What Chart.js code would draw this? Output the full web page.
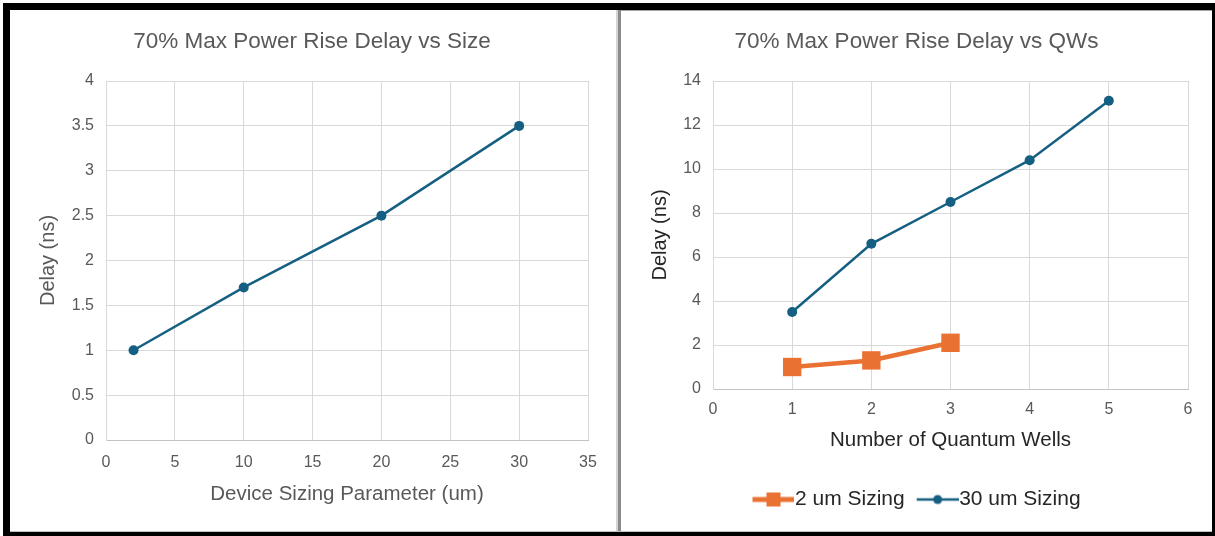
<!DOCTYPE html>
<html>
<head>
<meta charset="utf-8">
<script src="https://cdn.jsdelivr.net/npm/chart.js@4/dist/chart.umd.min.js"></script>
<style>
    body { margin: 0; background: #fff; }
    #frame { position: absolute; left: 3px; top: 3px; width: 1212px; height: 533px; background: #000; }
    .panel { position: absolute; background: #fff; }
    #leftPanel { left: 10px; top: 10px; width: 608px; height: 521px; }
    #rightPanel { left: 621px; top: 10px; width: 591px; height: 521px; border-top: 1px solid #a6a6a6; box-sizing: border-box; }
    #divLight { position: absolute; left: 616px; top: 10px; width: 2px; height: 522px; background: #d4d4d4; }
    #divDark { position: absolute; left: 618px; top: 10px; width: 3px; height: 522px; background: #8c8c8c; }
    #bottomLine { position: absolute; left: 10px; top: 531px; width: 1202px; height: 1px; background: #bdbdbd; }
    canvas { position: absolute; }
</style>
</head>
<body>
<div id="frame"></div>
<div class="panel" id="leftPanel"></div>
<div class="panel" id="rightPanel"></div>
<div id="divLight"></div>
<div id="divDark"></div>
<div id="bottomLine"></div>
<canvas id="sizeChart" width="608" height="521" style="left:10px;top:10px"></canvas>
<canvas id="qwChart" width="591" height="520" style="left:621px;top:11px"></canvas>
<script>
// Data
const sizeUm = [2, 10, 20, 30];
const sizeDelay = [1.0, 1.7, 2.5, 3.5];

const wells = [1, 2, 3, 4, 5];
const delay2um = [1.0, 1.3, 2.1];
const delay30um = [3.5, 6.6, 8.5, 10.4, 13.1];

const seriesNames = ['2 um Sizing', '30 um Sizing'];

const BLUE = '#156082';
const ORANGE = '#E97132';
const GRID = '#d9d9d9';
const TEXT = '#595959';
const DARK = '#262626';
const FONT = "'Liberation Sans', Arial, sans-serif";

Chart.defaults.font.family = FONT;
Chart.defaults.animation = false;

function toPoints(xs, ys) {
    return ys.map((y, i) => ({ x: xs[i], y: y }));
}

// small line+marker icons for the legend
function makeIcon(color, lineWidth, marker) {
    const c = document.createElement('canvas');
    c.width = 52;
    c.height = 20;
    const g = c.getContext('2d');
    g.strokeStyle = color;
    g.fillStyle = color;
    g.lineWidth = lineWidth;
    g.beginPath();
    g.moveTo(10, 10);
    g.lineTo(52, 10);
    g.stroke();
    if (marker === 'rect') {
        g.fillRect(24, 3, 14, 14);
    } else {
        g.beginPath();
        g.arc(31, 10, 4.5, 0, Math.PI * 2);
        g.fill();
    }
    return c;
}
const legendIcons = [makeIcon(ORANGE, 5, 'rect'), makeIcon(BLUE, 2.5, 'circle')];

function axisY(max, step, titleColor, titlePad, width) {
    return {
        type: 'linear',
        min: 0,
        max: max,
        ticks: { stepSize: step, padding: 12, color: TEXT, font: { size: 16 }, callback: v => v },
        grid: { color: GRID, drawTicks: false },
        border: { color: GRID },
        title: { display: true, text: 'Delay (ns)', color: titleColor, font: { size: 20 }, padding: { top: titlePad, bottom: 0 } },
        afterFit: s => { s.width = width; }
    };
}

function axisX(max, step, label, titleColor, tickPad, height) {
    return {
        type: 'linear',
        min: 0,
        max: max,
        ticks: { stepSize: step, padding: tickPad, color: TEXT, font: { size: 16 }, maxRotation: 0 },
        grid: { color: GRID, drawTicks: false },
        border: { color: '#c4c4c4' },
        title: { display: true, text: label, color: titleColor, font: { size: 20.5 }, padding: { top: 0, bottom: 0 } },
        afterFit: s => { s.height = height; }
    };
}

// Left chart: delay vs device size
new Chart(document.getElementById('sizeChart'), {
    type: 'line',
    data: {
        datasets: [{
            label: 'Delay',
            data: toPoints(sizeUm, sizeDelay),
            borderColor: BLUE,
            backgroundColor: BLUE,
            borderWidth: 2.5,
            pointRadius: 5,
            pointBackgroundColor: BLUE,
            pointBorderWidth: 0
        }]
    },
    options: {
        responsive: false,
        layout: { padding: { left: 26, right: 30, top: 0, bottom: 24 } },
        plugins: {
            legend: { display: false },
            tooltip: { enabled: false },
            title: {
                display: true,
                text: '70% Max Power Rise Delay vs Size',
                color: TEXT,
                font: { size: 22.5, weight: 'normal' },
                padding: { top: 18, bottom: 26 }
            }
        },
        scales: {
            x: axisX(35, 5, 'Device Sizing Parameter (um)', TEXT, 13, 67),
            y: axisY(4, 0.5, TEXT, 0, 70)
        }
    }
});

// Right chart: delay vs number of quantum wells
new Chart(document.getElementById('qwChart'), {
    type: 'line',
    data: {
        datasets: [{
            label: seriesNames[0],
            data: toPoints(wells, delay2um),
            borderColor: ORANGE,
            backgroundColor: ORANGE,
            borderWidth: 4.5,
            pointStyle: 'rect',
            pointRadius: 13,
            pointBackgroundColor: ORANGE,
            pointBorderWidth: 0
        }, {
            label: seriesNames[1],
            data: toPoints(wells, delay30um),
            borderColor: BLUE,
            backgroundColor: BLUE,
            borderWidth: 2.5,
            pointRadius: 5,
            pointBackgroundColor: BLUE,
            pointBorderWidth: 0
        }]
    },
    options: {
        responsive: false,
        layout: { padding: { left: 24, right: 24, top: 0, bottom: 11 } },
        plugins: {
            tooltip: { enabled: false },
            title: {
                display: true,
                text: '70% Max Power Rise Delay vs QWs',
                color: TEXT,
                font: { size: 22.5, weight: 'normal' },
                padding: { top: 17, bottom: 26 }
            },
            legend: {
                position: 'bottom',
                title: { display: true, text: '', font: { size: 10 }, padding: { top: 0, bottom: 12 } },
                labels: {
                    usePointStyle: true,
                    pointStyleWidth: 32,
                    padding: 12,
                    color: DARK,
                    font: { size: 21 },
                    generateLabels: chart => Chart.defaults.plugins.legend.labels.generateLabels(chart)
                        .map((item, i) => Object.assign(item, { pointStyle: legendIcons[i] }))
                }
            }
        },
        scales: {
            x: axisX(6, 1, 'Number of Quantum Wells', DARK, 11, 64),
            y: axisY(14, 2, DARK, 3, 68)
        }
    }
});
</script>
</body>
</html>
